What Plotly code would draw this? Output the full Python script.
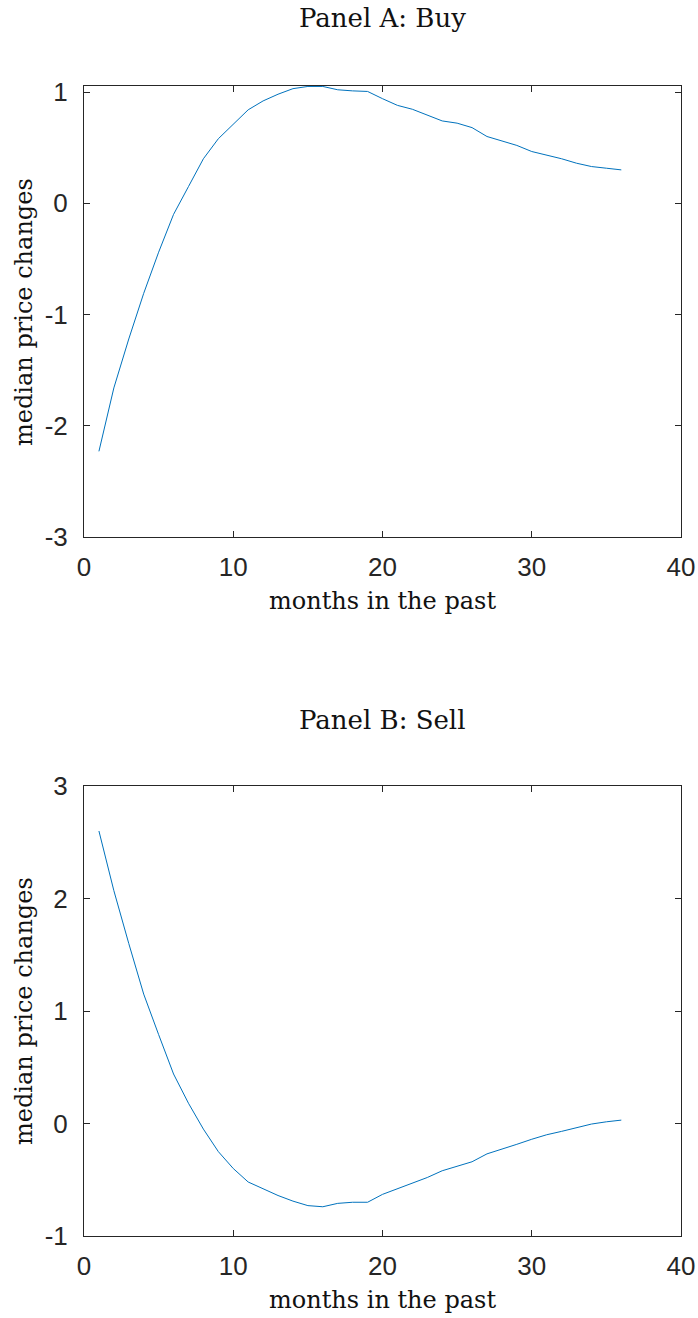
import plotly.graph_objects as go

months = list(range(1, 37))
buy = [-2.23, -1.66, -1.22, -0.81, -0.44, -0.10, 0.15, 0.40, 0.58, 0.71,
       0.84, 0.92, 0.98, 1.03, 1.05, 1.05, 1.02, 1.01, 1.005, 0.94,
       0.88, 0.845, 0.79, 0.74, 0.72, 0.68, 0.60, 0.56, 0.52, 0.465,
       0.435, 0.40, 0.36, 0.33, 0.315, 0.30]
sell = [2.60, 2.07, 1.60, 1.15, 0.79, 0.44, 0.18, -0.05, -0.25, -0.40,
        -0.52, -0.58, -0.64, -0.69, -0.73, -0.74, -0.71, -0.70, -0.70, -0.63,
        -0.58, -0.53, -0.48, -0.42, -0.38, -0.34, -0.27, -0.23, -0.185, -0.14,
        -0.10, -0.07, -0.035, -0.005, 0.015, 0.03]

x_ticks = [0, 10, 20, 30, 40]
buy_ticks = [-3, -2, -1, 0, 1]
sell_ticks = [-1, 0, 1, 2, 3]
titles = ["Panel A: Buy", "Panel B: Sell"]
xlabel = "months in the past"
ylabel = "median price changes"

W, H = 698, 1318
ML, MR, MT, MB = 84, 17, 86, 82
ph = H - MT - MB
LINE = "#0072BD"
AX = "#262626"
TICKFONT = dict(family="Liberation Sans, Arial, sans-serif", size=26, color=AX)
SERIF = dict(family="DejaVu Serif, serif", size=24, color="#111111")
SERIF_T = dict(family="DejaVu Serif, serif", size=26, color="#111111")

fig = go.Figure()
fig.add_trace(go.Scatter(x=months, y=buy, mode="lines", line=dict(color=LINE, width=1),
                         xaxis="x", yaxis="y", showlegend=False))
fig.add_trace(go.Scatter(x=months, y=sell, mode="lines", line=dict(color=LINE, width=1),
                         xaxis="x2", yaxis="y2", showlegend=False))

axA_top, axA_bot = 86, 537
axB_top, axB_bot = 786, 1236
def dom(top, bot):
    return [1 - (bot - MT) / ph, 1 - (top - MT) / ph]

common_x = dict(range=[0, 40], tickvals=x_ticks, ticktext=[str(v) for v in x_ticks],
                showline=True, linecolor=AX, linewidth=1, mirror="ticks", automargin=False,
                ticks="inside", ticklen=6, tickcolor=AX, showgrid=False, zeroline=False,
                tickfont=TICKFONT, ticklabelstandoff=7)
common_y = dict(showline=True, linecolor=AX, linewidth=1, mirror="ticks", automargin=False,
                ticks="inside", ticklen=6, tickcolor=AX, showgrid=False, zeroline=False,
                tickfont=TICKFONT, ticklabelstandoff=10)

fig.update_layout(
    width=W, height=H, margin=dict(l=ML, r=MR, t=MT, b=MB, autoexpand=False),
    paper_bgcolor="white", plot_bgcolor="white",
    xaxis=dict(domain=[0, 1], anchor="y", **common_x),
    yaxis=dict(domain=dom(axA_top, axA_bot), anchor="x", range=[-3, 1.054],
               tickvals=buy_ticks, ticktext=[str(v) for v in buy_ticks], **common_y),
    xaxis2=dict(domain=[0, 1], anchor="y2", **common_x),
    yaxis2=dict(domain=dom(axB_top, axB_bot), anchor="x2", range=[-1, 3],
                tickvals=sell_ticks, ticktext=[str(v) for v in sell_ticks], **common_y),
)

def py(p):
    return 1 - (p - MT) / ph

ann = []
for t, ty, xy, ly in [(titles[0], 18, 601, 312), (titles[1], 720, 1300, 1011)]:
    ann.append(dict(text=t, x=0.5, y=py(ty), xref="paper", yref="paper",
                    xanchor="center", yanchor="middle", showarrow=False, font=SERIF_T))
    ann.append(dict(text=xlabel, x=0.5, y=py(xy), xref="paper", yref="paper",
                    xanchor="center", yanchor="middle", showarrow=False, font=SERIF))
    ann.append(dict(text=ylabel, x=(24 - ML) / (W - ML - MR), y=py(ly), xref="paper", yref="paper",
                    xanchor="center", yanchor="middle", textangle=-90, showarrow=False, font=SERIF))
fig.update_layout(annotations=ann)

fig.write_html("out.html")
